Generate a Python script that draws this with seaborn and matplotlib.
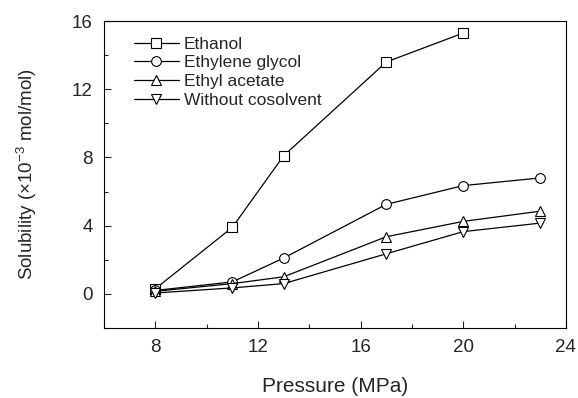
#!/usr/bin/env python3

"""Solubility vs pressure with different cosolvents."""

import matplotlib

matplotlib.use("Agg")
import matplotlib.pyplot as plt
import pandas as pd
import seaborn as sns
from matplotlib import rc
from matplotlib.ticker import MultipleLocator

sns.set_theme(style="ticks", context="paper")
rc("font", family=["Liberation Sans", "DejaVu Sans"])
rc("mathtext", fontset="custom", rm="Liberation Sans", it="Liberation Sans:italic")

# data
pressure_ethanol = [8, 11, 13, 17, 20]
ethanol = [0.3, 3.9, 8.1, 13.6, 15.3]
pressure = [8, 11, 13, 17, 20, 23]
ethylene_glycol = [0.2, 0.7, 2.1, 5.25, 6.35, 6.8]
ethyl_acetate = [0.15, 0.6, 1.0, 3.35, 4.25, 4.85]
without_cosolvent = [0.05, 0.35, 0.6, 2.35, 3.65, 4.15]

series = ["Ethanol", "Ethylene glycol", "Ethyl acetate", "Without cosolvent"]
markers = ["s", "o", "^", "v"]


def main():
    frames = [
        pd.DataFrame({"p": pressure_ethanol, "s": ethanol, "name": series[0]}),
        pd.DataFrame({"p": pressure, "s": ethylene_glycol, "name": series[1]}),
        pd.DataFrame({"p": pressure, "s": ethyl_acetate, "name": series[2]}),
        pd.DataFrame({"p": pressure, "s": without_cosolvent, "name": series[3]}),
    ]
    data = pd.concat(frames, ignore_index=True)

    fig = plt.figure(figsize=(5.78, 3.98), dpi=100)
    ax = fig.add_axes([0.18, 0.176, 0.799, 0.771])
    sns.lineplot(
        data=data,
        x="p",
        y="s",
        hue="name",
        style="name",
        hue_order=series,
        style_order=series,
        palette=["black"] * 4,
        markers=dict(zip(series, markers)),
        dashes=False,
        markersize=7,
        markerfacecolor="white",
        markeredgecolor="black",
        markeredgewidth=0.8,
        linewidth=0.9,
        ax=ax,
    )

    ax.set_xlim(6, 24)
    ax.set_ylim(-2, 16)
    ax.xaxis.set_major_locator(MultipleLocator(4))
    ax.xaxis.set_minor_locator(MultipleLocator(2))
    ax.yaxis.set_major_locator(MultipleLocator(4))
    ax.yaxis.set_minor_locator(MultipleLocator(2))
    ax.tick_params(which="both", direction="in", labelsize=13.5, width=0.8)
    ax.tick_params(which="major", length=5, pad=8)
    ax.tick_params(which="minor", length=3)
    for sp in ax.spines.values():
        sp.set_linewidth(0.8)
        sp.set_color("black")

    ax.set_xlabel("Pressure (MPa)", fontsize=15, labelpad=15)
    ax.set_ylabel(r"Solubility ($\times$10$^{-3}$ mol/mol)", fontsize=13.5, labelpad=24)

    handles, labels = ax.get_legend_handles_labels()
    ax.legend(
        handles,
        labels,
        loc="upper left",
        bbox_to_anchor=(0.03, 1.0),
        frameon=False,
        fontsize=12.5,
        handlelength=2.6,
        handletextpad=0.3,
        labelspacing=0.2,
    )

    fig.savefig("out.png", dpi=100)
    plt.close(fig)


if __name__ == "__main__":
    main()
